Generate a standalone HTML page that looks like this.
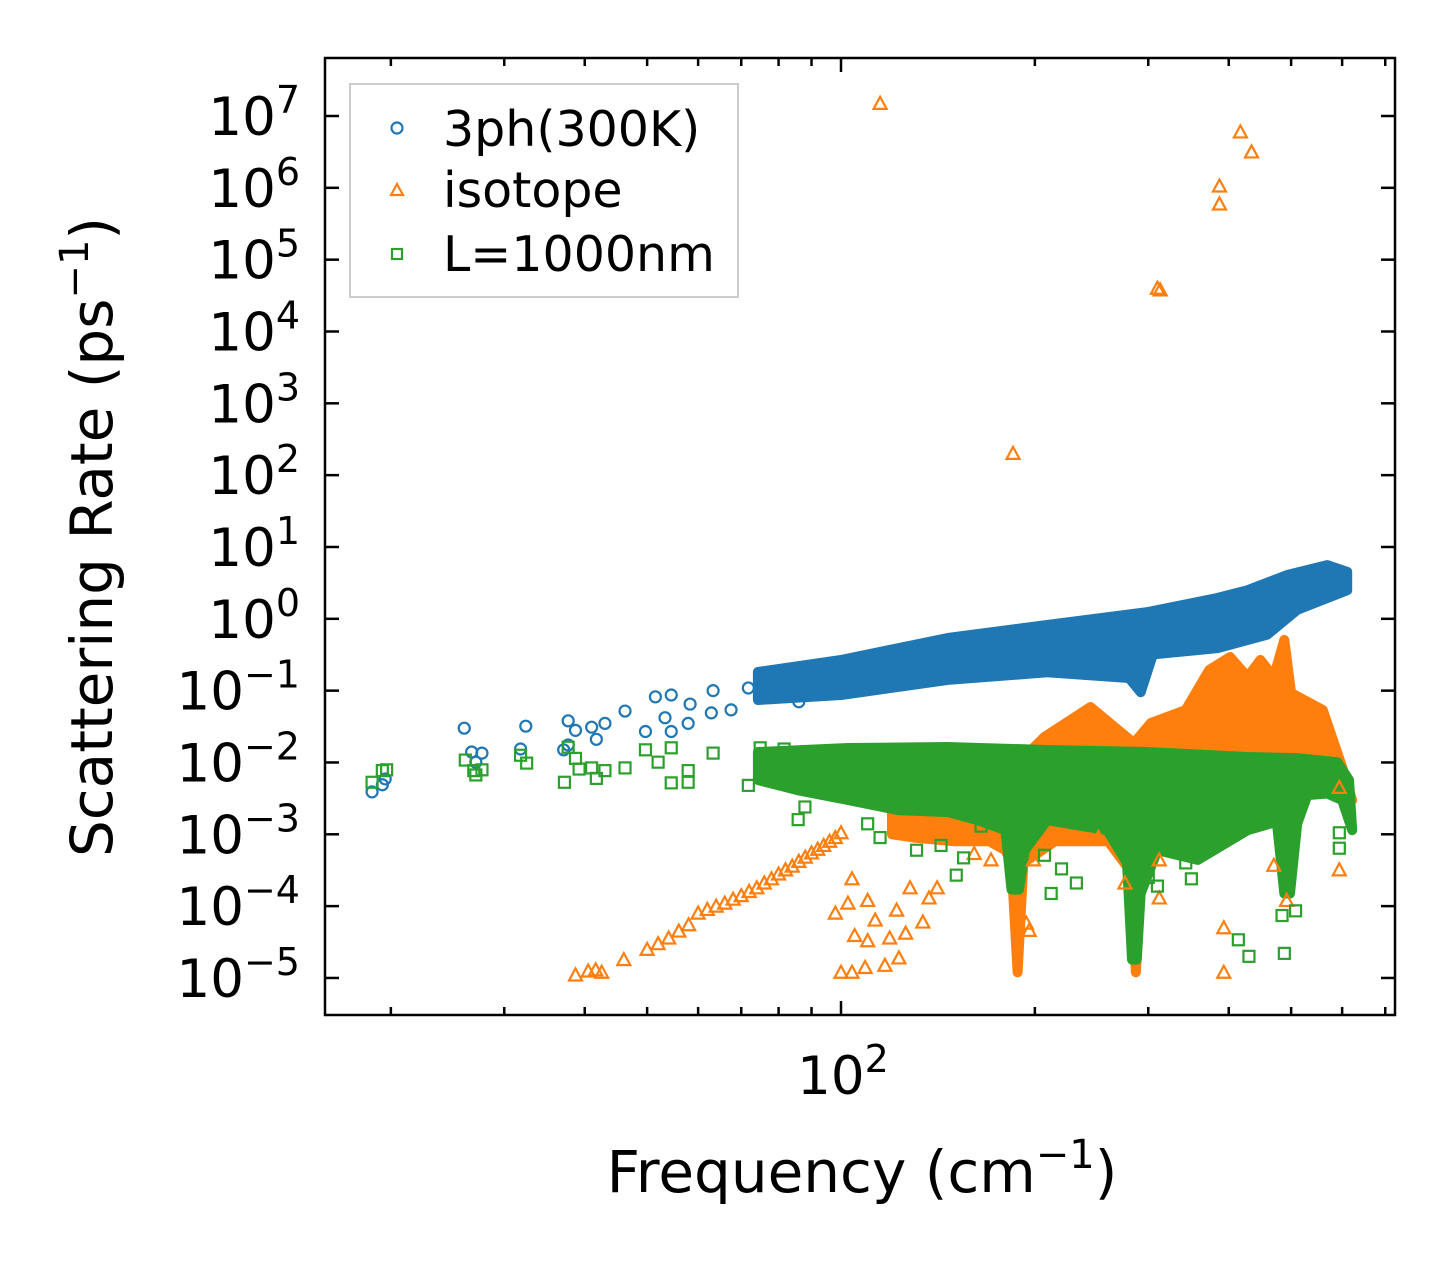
<!DOCTYPE html>
<html><head><meta charset="utf-8"><style>
body{margin:0;background:#fff}
svg{display:block;font-family:"DejaVu Sans","Liberation Sans",sans-serif}
</style></head><body>
<svg id="chart" width="1455" height="1265" viewBox="0 0 1455 1265" xmlns="http://www.w3.org/2000/svg">
<rect x="0" y="0" width="1455" height="1265" fill="#fff"/>
<g id="bands"></g>
<g id="marks"></g>
<g id="axes"></g>
<text x="112" y="537" font-size="58" text-anchor="middle" transform="rotate(-90 112 537)">Scattering Rate (ps<tspan dy="-24" font-size="40">−1</tspan><tspan dy="24">)</tspan></text>
<text x="862" y="1192" font-size="58" text-anchor="middle">Frequency (cm<tspan dy="-24" font-size="40">−1</tspan><tspan dy="24">)</tspan></text>
<g>
<rect x="350" y="84" width="388" height="213" fill="#fff" fill-opacity="0.8" stroke="#ccc" stroke-width="2"/>
<circle cx="397" cy="128" r="5.5" fill="none" stroke="#1f77b4" stroke-width="2.2"/>
<text x="443" y="146" font-size="49">3ph(300K)</text>
<path d="M391,195 L403,195 L397,184 Z" fill="none" stroke="#ff7f0e" stroke-width="2.2"/>
<text x="443" y="207" font-size="49">isotope</text>
<rect x="392" y="249" width="10" height="10" fill="none" stroke="#2ca02c" stroke-width="2.2"/>
<text x="443" y="271" font-size="49">L=1000nm</text>
</g>
</svg>
<script>
const xTicksMinor=[20,30,40,50,60,70,80,90,200,300,400,500,600,700];
const xTicksMajor=[100];
const yTickExps=[7,6,5,4,3,2,1,0,-1,-2,-3,-4,-5];
// blue 3ph sparse points
const blueF=[18.7,19.4,19.6,26.0,26.7,27.7,27.1,31.8,32.4,37.7,38.7,41.0,41.7,43.0,46.2,37.1,37.7,49.7,51.5,54.5,53.3,54.5,57.9,58.3,63.3,62.9,71.8,67.5,75.2,78,82,86,90,95];
const blueV=[0.0039,0.0049,0.0059,0.030,0.014,0.0135,0.0101,0.0154,0.032,0.038,0.028,0.031,0.021,0.035,0.052,0.015,0.0175,0.027,0.082,0.087,0.042,0.027,0.035,0.065,0.10,0.049,0.109,0.054,0.17,0.08,0.13,0.07,0.15,0.12];
const blueBandUpF=[74.3,100,146.5,209,299,384,428,493,569,611];
const blueBandUpV=[0.182,0.267,0.54,0.82,1.24,1.95,2.5,4.07,5.6,4.5];
const blueBandLoF=[611,511,459,384,305,292,280,209,146.5,100,74.3];
const blueBandLoV=[2.5,1.33,0.6,0.39,0.32,0.095,0.15,0.18,0.141,0.087,0.074];
// orange isotope
const orangeF=[38.7,40.5,41.6,42.5,46,50,52,54,56,58,60,62,64,66,68,70,72,74,76,78,80,82,84,86,88,90,92,94,96,98,100,
98,104,102.5,110,105,110,113,100,104,109,117,123,119,126,134,122,128,141,137,161,171,199,194,196,251,276,312,312,393,393,594,594,470,492,
115,185,310,313,387,387,417,434];
const orangeV=[1.1e-5,1.25e-5,1.3e-5,1.2e-5,1.8e-5,2.5e-5,3e-5,3.6e-5,4.5e-5,5.5e-5,8e-5,9e-5,1e-4,1.1e-4,1.25e-4,1.4e-4,1.6e-4,1.8e-4,2.1e-4,2.4e-4,2.8e-4,3.2e-4,3.6e-4,4.2e-4,4.8e-4,5.5e-4,6.2e-4,7e-4,8e-4,9e-4,1.05e-3,
8e-5,2.4e-4,1.1e-4,1.2e-4,3.9e-5,3.3e-5,6.4e-5,1.2e-5,1.2e-5,1.4e-5,1.5e-5,1.9e-5,3.6e-5,4.2e-5,6e-5,8.8e-5,1.8e-4,1.8e-4,1.3e-4,5.4e-4,4.4e-4,4.4e-4,5.8e-5,4.6e-5,9e-4,2.1e-4,1.3e-4,4.4e-4,5e-5,1.2e-5,3.2e-4,4.5e-3,3.7e-4,1.2e-4,
1.5e7,201,4.0e4,3.8e4,1.06e6,5.96e5,6.0e6,3.16e6];
const orangeBandUpF=[120,170,207,244,285,303,343,373,402,428,448,470,488,500,560,600,622];
const orangeBandUpV=[0.002,0.004,0.0226,0.059,0.0186,0.0355,0.0537,0.194,0.294,0.155,0.267,0.155,0.507,0.0927,0.0537,0.00865,0.003];
const orangeBandLoF=[622,600,520,500,470,430,300,292,287,282,260,215,192,188,184,180,170,150,130,120];
const orangeBandLoV=[0.003,0.004,0.004,0.002,0.0015,0.0015,0.0008,0.0003,0.000012,0.0003,0.0008,0.0008,0.0004,0.000012,0.0004,0.0006,0.0008,0.0008,0.0009,0.001];
// green boundary
const greenF=[18.7,19.4,19.7,26.1,26.9,27.1,27.7,31.8,32.5,37.2,37.7,38.7,39.2,41.0,41.7,43.0,46.2,49.7,54.5,52,54.5,57.9,57.9,63.3,71.8,74.9,81.6,85.8,87.9,
212,220,232,207,300,310,350,343,414,430,488,484,508,594,594,151,155,131,143,115,110,165];
const greenV=[0.0053,0.0077,0.0079,0.0108,0.0077,0.0067,0.0079,0.0126,0.0098,0.0053,0.0163,0.0114,0.0081,0.0084,0.006,0.0077,0.0084,0.015,0.016,0.0101,0.0052,0.0053,0.0077,0.0135,0.0048,0.016,0.0154,0.0016,0.0024,
1.5e-4,3.3e-4,2.1e-4,5.1e-4,2.5e-4,1.9e-4,2.4e-4,4e-4,3.4e-5,2e-5,2.2e-5,7.4e-5,8.6e-5,6.4e-4,1.05e-3,2.7e-4,4.7e-4,6e-4,7e-4,9e-4,1.4e-3,1.3e-3];
const greenBandUpF=[74.3,102.5,146.5,209,299,428,511,590,615];
const greenBandUpV=[0.014,0.0159,0.0164,0.0149,0.014,0.0119,0.0115,0.0101,0.0057];
const greenBandLoF=[622,600,569,530,511,498,488,475,428,358,310,292,288,283,278,259,209,193,189,184,180,163,146.5,122.6,102.5,85.8,74.3];
const greenBandLoV=[0.00114,0.003,0.0037,0.0035,0.0014,0.00015,0.00015,0.0015,0.00114,0.00044,0.0006,0.00015,0.000018,0.000018,0.0004,0.00114,0.00157,0.0006,0.00017,0.00017,0.00114,0.00157,0.00204,0.00217,0.003,0.0041,0.0057];

const NS='http://www.w3.org/2000/svg';
const L=325,R=1395,T=58,B=1015;
function xs(f){return 841+644*(Math.log10(f)-2);}
function ys(v){return 116+71.83*(7-Math.log10(v));}
function mk(tag,attrs,parent){const e=document.createElementNS(NS,tag);for(const k in attrs)e.setAttribute(k,attrs[k]);parent.appendChild(e);return e;}
const bands=document.getElementById('bands'),marks=document.getElementById('marks'),axes=document.getElementById('axes');

function band(upF,upV,loF,loV,color,name){
  const pts=[];
  for(let i=0;i<upF.length;i++)pts.push(xs(upF[i]).toFixed(1)+','+ys(upV[i]).toFixed(1));
  for(let i=0;i<loF.length;i++)pts.push(xs(loF[i]).toFixed(1)+','+ys(loV[i]).toFixed(1));
  const p=mk('polygon',{points:pts.join(' '),fill:color,stroke:color,'stroke-width':10,'stroke-linejoin':'round'},bands);
  
  
}
band(orangeBandUpF,orangeBandUpV,orangeBandLoF,orangeBandLoV,'#ff7f0e','isotope-dense-band');
band(blueBandUpF,blueBandUpV,blueBandLoF,blueBandLoV,'#1f77b4','3ph-dense-band');
band(greenBandUpF,greenBandUpV,greenBandLoF,greenBandLoV,'#2ca02c','boundary-dense-band');

for(let i=0;i<orangeF.length;i++){
  const x=xs(orangeF[i]),y=ys(orangeV[i]);
  const p=mk('path',{d:`M${x-6.5},${y+5.5} L${x+6.5},${y+5.5} L${x},${y-6.5} Z`,fill:'none',stroke:'#ff7f0e','stroke-width':2.2},marks);
  
  
}
for(let i=0;i<blueF.length;i++){
  const c=mk('circle',{cx:xs(blueF[i]),cy:ys(blueV[i]),r:5.5,fill:'none',stroke:'#1f77b4','stroke-width':2.2},marks);
  
  
}
for(let i=0;i<greenF.length;i++){
  const s=mk('rect',{x:xs(greenF[i])-5.5,y:ys(greenV[i])-5.5,width:11,height:11,fill:'none',stroke:'#2ca02c','stroke-width':2.2},marks);
  
  
}

// frame
const fr=mk('rect',{x:L,y:T,width:R-L,height:B-T,fill:'none',stroke:'#000','stroke-width':2.5},axes);


for(const f of xTicksMinor){
  const x=xs(f);
  const t1=mk('line',{x1:x,x2:x,y1:B,y2:B-8,stroke:'#000','stroke-width':2.5},axes);
  
  
  const t2=mk('line',{x1:x,x2:x,y1:T,y2:T+8,stroke:'#000','stroke-width':2.5},axes);
  
  
}
for(const f of xTicksMajor){
  const x=xs(f);
  const t1=mk('line',{x1:x,x2:x,y1:B,y2:B-14,stroke:'#000','stroke-width':2.5},axes);
  
  
  const t2=mk('line',{x1:x,x2:x,y1:T,y2:T+14,stroke:'#000','stroke-width':2.5},axes);
  
  
  const lb=mk('text',{x:x+2,y:1094,'font-size':53,'text-anchor':'middle'},axes);
  
  
  lb.innerHTML='10<tspan dy="-22" font-size="38">'+Math.round(Math.log10(f))+'</tspan>';
}
for(const e of yTickExps){
  const y=ys(Math.pow(10,e));
  const t1=mk('line',{x1:L,x2:L+14,y1:y,y2:y,stroke:'#000','stroke-width':2.5},axes);
  
  
  const t2=mk('line',{x1:R,x2:R-14,y1:y,y2:y,stroke:'#000','stroke-width':2.5},axes);
  
  
  const lb=mk('text',{x:300,y:y+19,'font-size':53,'text-anchor':'end'},axes);
  
  
  lb.innerHTML='10<tspan dy="-22" font-size="38">'+(e<0?'−'+(-e):e)+'</tspan>';
}
</script>
</body></html>
